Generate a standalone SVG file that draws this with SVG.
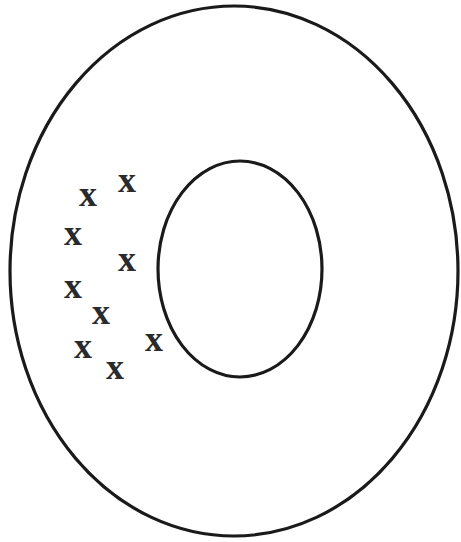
<svg xmlns="http://www.w3.org/2000/svg" width="461" height="542" viewBox="0 0 461 542">
<style>
.ring{fill:none;stroke:#1a1a1a;stroke-width:3.2}
.x{font-family:"Liberation Serif",serif;font-weight:bold;font-size:36px;fill:#2a2a2a;text-anchor:middle}
</style>
<rect width="461" height="542" fill="#ffffff"/>
<g id="outer"><ellipse class="ring" cx="234" cy="271" rx="224" ry="265"/></g>
<g id="inner"><ellipse class="ring" cx="240" cy="269" rx="82" ry="108"/></g>
<g id="marks">
<text class="x" x="88" y="206">x</text>
<text class="x" x="127" y="192">x</text>
<text class="x" x="73" y="245">x</text>
<text class="x" x="127" y="271">x</text>
<text class="x" x="73" y="298">x</text>
<text class="x" x="101" y="324">x</text>
<text class="x" x="83" y="358">x</text>
<text class="x" x="154" y="351">x</text>
<text class="x" x="115" y="379">x</text>
</g>
</svg>
